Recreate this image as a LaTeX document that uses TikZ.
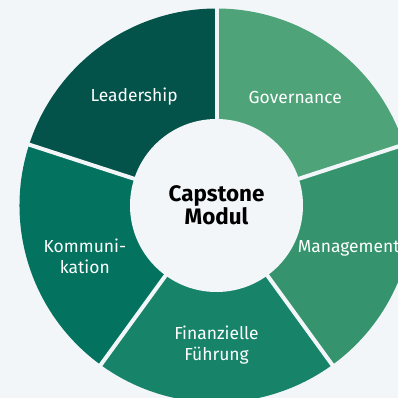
\documentclass[tikz,border=0pt]{standalone}
\usepackage{fontspec}
\setmainfont{Fira Sans}
\usepackage{xcolor}
\usepackage{tikz}
\usetikzlibrary{positioning}

\definecolor{bgc}{HTML}{F3F6F9}
\definecolor{govc}{HTML}{4EA379}
\definecolor{mgmc}{HTML}{35946D}
\definecolor{finc}{HTML}{17846A}
\definecolor{komc}{HTML}{03735F}
\definecolor{leadc}{HTML}{04534A}

\begin{document}
\begin{tikzpicture}[
    x=1bp, y=1bp,
    segtext/.style={text=white, align=center, font=\fontsize{17.5}{21}\selectfont},
    hub/.style={circle, fill=bgc, minimum size=173bp, inner sep=0pt, align=center, font=\fontsize{22.5}{23}\selectfont\bfseries},
    gap/.style={draw=bgc, line width=4bp}
]

% Background
\fill[bgc] (0,0) rectangle (398,398);
\useasboundingbox (0,0) rectangle (398,398);
\clip (0,0) rectangle (398,398);
\coordinate (c) at (216.5,192.5);

% Segments
\foreach \a/\col in {18/govc, -54/mgmc, -126/finc, 162/komc, 90/leadc}
    \fill[\col] (c) -- ++(\a:197) arc[start angle=\a, delta angle=72, radius=197] -- cycle;

% Gaps
\foreach \a in {90, 18, -54, -126, 162}
    \draw[gap] (c) -- ++(\a:205);

% Nodes
\node[hub] (hub) at (c) {Capstone\\Modul};
\path (c) ++(54:134) node[segtext] (gov) {Governance};
\path (c) ++(-18:139) node[segtext] (mgm) {Management};
\path (c) ++(-90:140) node[segtext] (fin) {Finanzielle\\Führung};
\path (c) ++(201:141) node[segtext] (kom) {Kommuni-\\kation};
\path (c) ++(127:137) node[segtext] (lead) {Leadership};

\end{tikzpicture}
\end{document}
